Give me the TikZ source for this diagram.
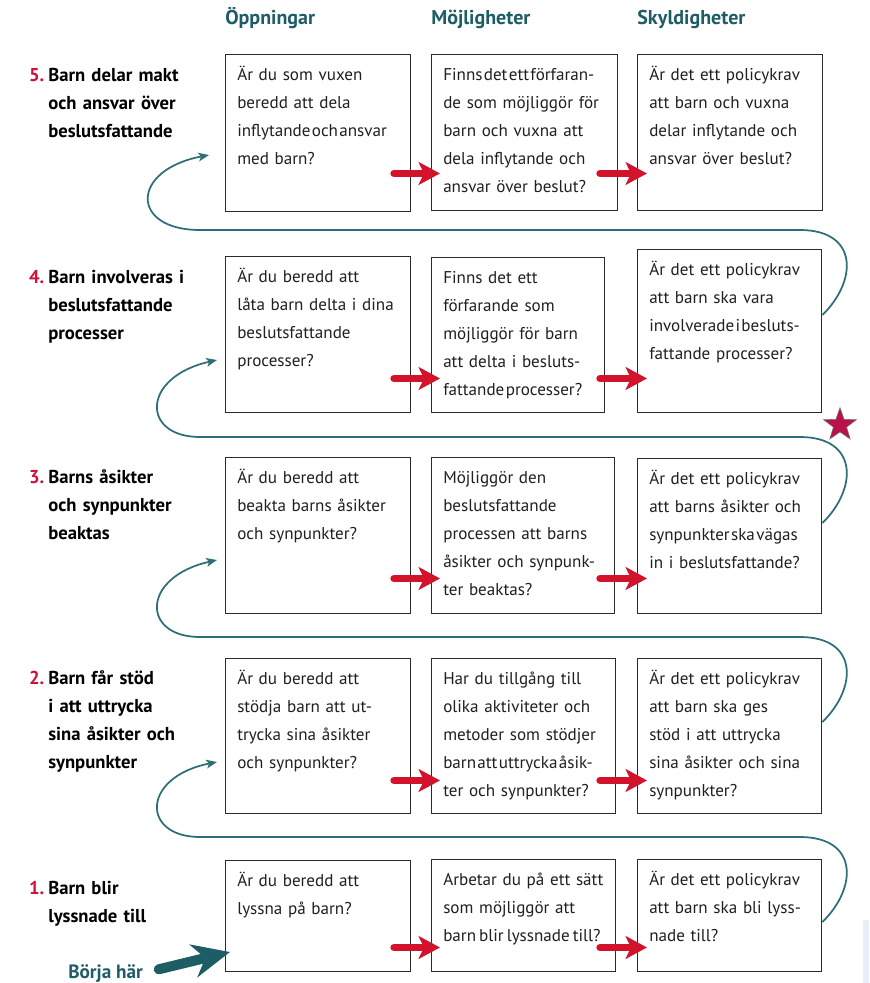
\documentclass[tikz,border=0pt]{standalone}
\usepackage{fontspec}
\setmainfont{PT Sans}
\usetikzlibrary{calc,arrows.meta,shapes.geometric}
\definecolor{pathteal}{HTML}{1E5C66}
\definecolor{looteal}{HTML}{2E6E78}
\definecolor{arrowred}{HTML}{D3122C}
\definecolor{numred}{HTML}{D0103A}
\definecolor{starred}{HTML}{B8124A}
\definecolor{boxgrey}{HTML}{2B2B2B}
\definecolor{textgrey}{HTML}{231F20}
\definecolor{paleblue}{HTML}{E6EEF7}
\def\qbox(#1)(#2,#3)(#4,#5){\node[box, minimum width=#4*0.75pt, minimum height=#5*0.75pt] (#1) at (#2,#3) {};}
\def\rowno#1{\llap{\textcolor{numred}{#1}\hspace{3pt}}}
\def\tight{\spaceskip=0.08em\relax}
\def\snug{\spaceskip=0.18em\relax}
\tikzset{
  box/.style={draw=boxgrey, line width=1.1pt, anchor=north west, inner sep=0pt},
  qtext/.style={anchor=north west, inner sep=0pt, text width=150pt, align=left, text=textgrey,
    font=\fontsize{12.8}{21}\selectfont, execute at begin node=\strut, xshift=9pt, yshift=-5pt},
  lab/.style={anchor=north west, inner sep=0pt, text width=140pt, align=left, text=black,
    font=\fontsize{14}{21}\selectfont\bfseries, execute at begin node=\strut, yshift=14.7pt},
  head/.style={anchor=base west, inner sep=0pt, text=pathteal, font=\fontsize{15}{17}\selectfont\bfseries},
  redarrow/.style={draw=arrowred, line width=5.5pt, line cap=round, -{Stealth[length=16pt, width=17pt, inset=4pt]}},
  loopline/.style={draw=looteal, line width=1.3pt, -{Stealth[length=8pt, width=6.5pt, inset=2pt]}},
  gostart/.style={draw=pathteal, line width=7.5pt, line cap=round, -{Stealth[length=28pt, width=25pt, inset=9pt]}}
}

\begin{document}
\begin{tikzpicture}[x=0.75pt, y=-0.75pt]
	%%%%% START %%%%%
	\useasboundingbox (0,0) rectangle (869,983);
	\fill[white] (0,0) rectangle (869,983);
	
	\node[head] (hO) at (225,24) {Öppningar};
	\node[head] (hM) at (431,24) {Möjligheter};
	\node[head] (hS) at (637,24) {Skyldigheter};
	
	\qbox(o5)(225,54)(185,157)
	\qbox(m5)(431,54)(186,156)
	\qbox(s5)(637,54)(185,156)
	
	\qbox(o4)(225,256)(185,156)
	\qbox(m4)(431,257)(173,155)
	\qbox(s4)(637,249)(184,163)
	
	\qbox(o3)(225,457)(185,156)
	\qbox(m3)(431,457)(183,156)
	\qbox(s3)(637,458)(184,155)
	
	\qbox(o2)(225,658)(185,155)
	\qbox(m2)(431,658)(184,155)
	\qbox(s2)(637,658)(184,155)
	
	\qbox(o1)(225,860)(185,111)
	\qbox(m1)(431,859)(184,112)
	\qbox(s1)(637,859)(184,112)
	
	\node[lab] (l5) at (48,81) {\rowno{5.}Barn delar makt\\och ansvar över\\beslutsfattande};
	\node[lab] (l4) at (48,283) {\rowno{4.}Barn involveras i\\beslutsfattande\\processer};
	\node[lab] (l3) at (48,483) {\rowno{3.}Barns åsikter\\och synpunkter\\beaktas};
	\node[lab] (l2) at (48,684) {\rowno{2.}Barn får stöd\\i att uttrycka\\sina åsikter och\\synpunkter};
	\node[lab] (l1) at (48,894) {\rowno{1.}Barn blir\\lyssnade till};
	
	\node[qtext] (to5) at (o5.north west) {Är du som vuxen\\beredd att dela\\{\tight inflytande och ansvar}\\med barn?};
	\node[qtext] (tm5) at (m5.north west) {{\tight Finns det ett förfaran-}\\de som möjliggör för\\barn och vuxna att\\dela inflytande och\\ansvar över beslut?};
	\node[qtext] (ts5) at (s5.north west) {Är det ett policykrav\\att barn och vuxna\\delar inflytande och\\ansvar över beslut?};
	
	\node[qtext] (to4) at (o4.north west) {Är du beredd att\\låta barn delta i dina\\beslutsfattande\\processer?};
	\node[qtext] (tm4) at (m4.north west) {Finns det ett\\förfarande som\\möjliggör för barn\\att delta i besluts-\\{\tight fattande processer?}};
	\node[qtext] (ts4) at (s4.north west) {Är det ett policykrav\\att barn ska vara\\{\tight involverade i besluts-}\\fattande processer?};
	
	\node[qtext] (to3) at (o3.north west) {Är du beredd att\\beakta barns åsikter\\och synpunkter?};
	\node[qtext] (tm3) at (m3.north west) {Möjliggör den\\beslutsfattande\\processen att barns\\åsikter och synpunk-\\ter beaktas?};
	\node[qtext] (ts3) at (s3.north west) {Är det ett policykrav\\att barns åsikter och\\{\tight synpunkter ska vägas}\\in i beslutsfattande?};
	
	\node[qtext] (to2) at (o2.north west) {Är du beredd att\\stödja barn att ut-\\trycka sina åsikter\\och synpunkter?};
	\node[qtext] (tm2) at (m2.north west) {Har du tillgång till\\olika aktiviteter och\\metoder som stödjer\\{\tight barn att uttrycka åsik-}\\ter och synpunkter?};
	\node[qtext] (ts2) at (s2.north west) {Är det ett policykrav\\att barn ska ges\\stöd i att uttrycka\\sina åsikter och sina\\synpunkter?};
	
	\node[qtext] (to1) at (o1.north west) {Är du beredd att\\lyssna på barn?};
	\node[qtext] (tm1) at (m1.north west) {Arbetar du på ett sätt\\som möjliggör att\\{\snug barn blir lyssnade till?}};
	\node[qtext] (ts1) at (s1.north west) {Är det ett policykrav\\att barn ska bli lyss-\\nade till?};
	
	% red arrows into each box
	\foreach \r/\d in {5/38, 4/35, 3/36, 2/34, 1/25}{
		\draw[redarrow] ($(m\r.south west)+(-37,-\d)$) -- ($(m\r.south west)+(9,-\d)$);
		\draw[redarrow] ($(s\r.south west)+(-37,-\d)$) -- ($(s\r.south west)+(10,-\d)$);
	}
	
	% loops back to the next step
	\coordinate (in5) at (209,155);
	\coordinate (in4) at (217,360);
	\coordinate (in3) at (217,560);
	\coordinate (in2) at (217,762);
	\foreach \a/\b/\ys/\yh/\xl in {s4/5/315/230/130, s3/4/523/437/141, s2/3/722/637/141, s1/2/922/837/141}
		\draw[loopline] (\a.east |- 0,\ys) .. controls (858,\ys-35) and (858,\yh) .. (800,\yh) -- (200,\yh) .. controls (\xl,\yh) and (\xl,\yh-60) .. (in\b);
	
	\node[star, star points=5, star point ratio=2.5, minimum size=26pt, inner sep=0pt, fill=starred, draw=black!55, line width=0.4pt] (star) at (840,425) {};
	
	\node[head, font=\fontsize{14.4}{16}\selectfont\bfseries] (go) at (68,978) {Börja här};
	\coordinate (in1) at (230,952);
	\draw[gostart, shorten <=12pt] (go.east) -- (in1);
	
	\fill[paleblue] (863,920) rectangle (869,983);
	%%%%% END %%%%%
\end{tikzpicture}
\end{document}
